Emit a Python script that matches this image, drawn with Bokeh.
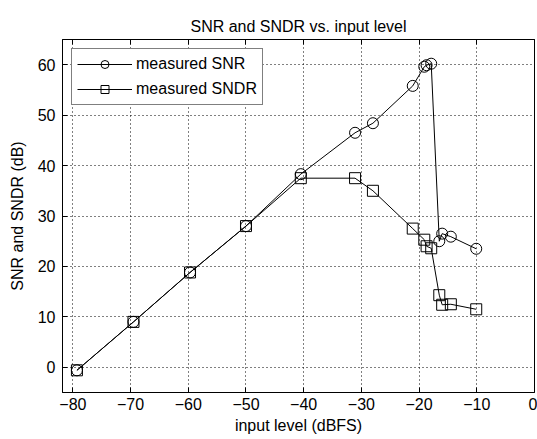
from bokeh.plotting import figure
from bokeh.models import Range1d, LinearAxis, FixedTicker, Legend, LegendItem
from bokeh.embed import file_html
from bokeh.resources import INLINE

# data
input_level = [-79.3, -69.5, -59.7, -50.0, -40.5, -31.1, -28.0, -21.1, -19.1, -18.7, -17.9, -16.5, -16.0, -14.5, -10.1]
snr = [-0.6, 9.0, 18.8, 28.0, 38.3, 46.5, 48.4, 55.8, 59.6, 59.9, 60.2, 25.0, 26.5, 25.9, 23.5]
sndr = [-0.6, 9.0, 18.8, 28.0, 37.5, 37.5, 35.0, 27.5, 25.3, 24.0, 23.6, 14.3, 12.4, 12.5, 11.5]
x_ticks = [-80, -70, -60, -50, -40, -30, -20, -10, 0]
y_ticks = [0, 10, 20, 30, 40, 50, 60]

FONT = "Liberation Sans"
FS = "16px"

p = figure(width=537, height=439, output_backend="svg", toolbar_location=None,
           x_range=Range1d(-81.8, 0), y_range=Range1d(-5, 65),
           min_border_left=62, min_border_right=3, min_border_top=39, min_border_bottom=47,
           title="SNR and SNDR vs. input level")
p.background_fill_color = "white"
p.border_fill_color = "white"
p.outline_line_color = "black"
p.outline_line_width = 1
p.title.align = "center"
p.title.text_font = FONT
p.title.text_font_size = FS
p.title.text_font_style = "normal"
p.title.text_color = "black"

for ax, ticks in ((p.xaxis[0], x_ticks), (p.yaxis[0], y_ticks)):
    ax.ticker = FixedTicker(ticks=ticks)
    ax.major_tick_in = 5
    ax.major_tick_out = 0
    ax.minor_tick_in = 0
    ax.minor_tick_out = 0
    ax.axis_line_color = "black"
    ax.major_tick_line_color = "black"
    ax.major_label_text_font = FONT
    ax.major_label_text_font_size = FS
    ax.major_label_text_color = "black"
    ax.axis_label_text_font = FONT
    ax.axis_label_text_font_size = FS
    ax.axis_label_text_font_style = "normal"
    ax.axis_label_text_color = "black"

p.xaxis.axis_label = "input level (dBFS)"
p.yaxis.axis_label = "SNR and SNDR (dB)"
p.xaxis.major_label_standoff = 5
p.xaxis.axis_label_standoff = 4
p.yaxis.major_label_standoff = 7
p.yaxis.axis_label_standoff = 9

for g in (p.xgrid[0], p.ygrid[0]):
    g.grid_line_color = "black"
    g.grid_line_dash = "1 3"
    g.grid_line_alpha = 1.0
    g.grid_line_width = 1

# mirror ticks on top (MATLAB box style), without labels
top = LinearAxis(ticker=FixedTicker(ticks=x_ticks), major_label_text_font_size="0px",
                 major_label_text_color=None,
                 major_tick_in=5, major_tick_out=0, minor_tick_in=0, minor_tick_out=0,
                 major_label_standoff=0, axis_line_color="black")
p.add_layout(top, "above")

l1 = p.line(input_level, snr, line_color="black", line_width=1)
s1 = p.scatter(input_level, snr, marker="circle", size=11, fill_alpha=0, line_color="black", line_width=1)
l2 = p.line(input_level, sndr, line_color="black", line_width=1)
s2 = p.scatter(input_level, sndr, marker="square", size=11, fill_alpha=0, line_color="black", line_width=1)

legend = Legend(items=[LegendItem(label="measured SNR", renderers=[l1, s1]),
                       LegendItem(label="measured SNDR", renderers=[l2, s2])],
                location="top_left", margin=9, padding=5, spacing=5,
                glyph_width=55, glyph_height=20, label_standoff=4,
                border_line_color="black", border_line_width=1,
                background_fill_color="white", background_fill_alpha=1.0,
                label_text_font=FONT, label_text_font_size=FS, label_text_color="black")
p.add_layout(legend)

open("out.html", "w").write(file_html(p, INLINE))
